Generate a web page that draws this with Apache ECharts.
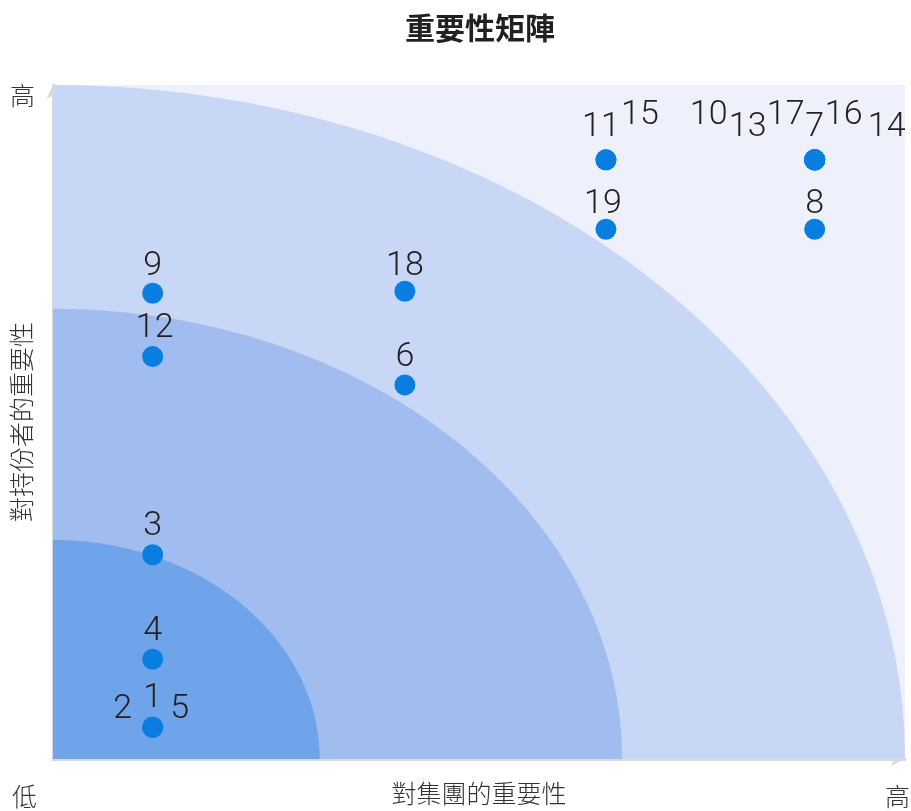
<!DOCTYPE html>
<html>
<head>
<meta charset="utf-8">
<script src="https://cdn.jsdelivr.net/npm/echarts@6/dist/echarts.min.js"></script>
<style>html,body{margin:0;padding:0;background:#fff}#chart{width:911px;height:811px}</style>
</head>
<body>
<div id="chart"></div>
<script>
// ---- data ----
const pointIds = ['1','2','5','3','4','12','9','18','6','19','11','15','8','7','10','13','17','16','14'];
const groupImportance = [11.7,11.7,11.7,11.7,11.7,11.7,11.7,41.3,41.3,64.9,64.9,64.9,89.4,89.4,89.4,89.4,89.4,89.4,89.4];
const stakeholderImportance = [4.7,4.7,4.7,30.3,14.8,59.7,69.1,69.4,55.5,78.6,88.9,88.9,78.6,88.9,88.9,88.9,88.9,88.9,88.9];
const zoneRadiusX = [100, 66.8, 31.3];
const zoneRadiusY = [100, 66.8, 32.5];
const titleText = '重要性矩陣';
const xAxisName = '對集團的重要性';
const yAxisName = '對持份者的重要性';
const lowText = '低';
const highText = '高';

// ---- styles ----
const zoneColors = ['#C9D7F6', '#A1BDF0', '#70A4EA'];
const labelOffsets = {
  '1':[0,-29],'2':[-30,-18],'5':[27,-18],'3':[0,-28],'4':[0,-28],'12':[2,-28],'9':[0,-27],
  '18':[0,-25],'6':[0,-27],'19':[-3,-25],'11':[-5,-32],'15':[34,-44],'8':[0,-25],'7':[0,-32],
  '10':[-106,-44],'13':[-67,-32],'17':[-29,-44],'16':[29,-44],'14':[72,-32]
};
const textFont = '"Noto Sans CJK TC", "Noto Sans CJK SC", sans-serif';

const chart = echarts.init(document.getElementById('chart'));

const scatterData = pointIds.map((id, i) => ({
  value: [groupImportance[i], stakeholderImportance[i]],
  name: id,
  label: { offset: labelOffsets[id] || [0, -27] }
}));

chart.setOption({
  animation: false,
  title: {
    text: titleText, left: 475, top: 8, textAlign: 'center',
    textStyle: { fontFamily: textFont, fontSize: 30, fontWeight: 'bold', color: '#231F20' }
  },
  grid: { left: 53, right: 6, top: 85, bottom: 46, show: true, backgroundColor: '#EEF0FB', borderWidth: 0 },
  xAxis: {
    type: 'value', min: 0, max: 100,
    name: xAxisName, nameLocation: 'middle', nameGap: 22,
    nameTextStyle: { fontFamily: textFont, fontSize: 25, fontWeight: 300, color: '#333' },
    axisLine: { show: true, symbol: ['none', 'arrow'], symbolSize: [10, 14], lineStyle: { color: '#D9D9D9', width: 3 } },
    axisTick: { show: false }, axisLabel: { show: false }, splitLine: { show: false }
  },
  yAxis: {
    type: 'value', min: 0, max: 100,
    name: yAxisName, nameLocation: 'middle', nameGap: 19, nameRotate: 90,
    nameTextStyle: { fontFamily: textFont, fontSize: 25, fontWeight: 300, color: '#333' },
    axisLine: { show: true, symbol: ['none', 'arrow'], symbolSize: [10, 14], lineStyle: { color: '#D9D9D9', width: 3 } },
    axisTick: { show: false }, axisLabel: { show: false }, splitLine: { show: false }
  },
  graphic: [
    { type: 'text', left: 12, top: 784, style: { text: lowText, font: '300 25px ' + textFont, fill: '#333' } },
    { type: 'text', left: 885, top: 784, style: { text: highText, font: '300 25px ' + textFont, fill: '#333' } },
    { type: 'text', left: 10, top: 83, style: { text: highText, font: '300 25px ' + textFont, fill: '#333' } }
  ],
  series: [
    {
      type: 'custom',
      z: 1,
      silent: true,
      data: zoneRadiusX.map((rx, i) => [i]),
      renderItem: function (params, api) {
        const i = params.dataIndex;
        const rx = zoneRadiusX[i], ry = zoneRadiusY[i];
        const pts = [api.coord([0, 0])];
        const n = 120;
        for (let k = 0; k <= n; k++) {
          const t = (Math.PI / 2) * k / n;
          pts.push(api.coord([rx * Math.cos(t), ry * Math.sin(t)]));
        }
        return { type: 'polygon', shape: { points: pts }, style: { fill: zoneColors[i] } };
      }
    },
    {
      type: 'scatter',
      z: 3,
      symbolSize: 21,
      itemStyle: { color: '#0A7EE0', opacity: 1 },
      label: {
        show: true, position: 'inside', formatter: '{b}', opacity: 1,
        fontFamily: 'Roboto, "Liberation Sans", sans-serif', fontWeight: 300, fontSize: 34, color: '#231F20'
      },
      data: scatterData
    }
  ]
});
</script>
</body>
</html>
